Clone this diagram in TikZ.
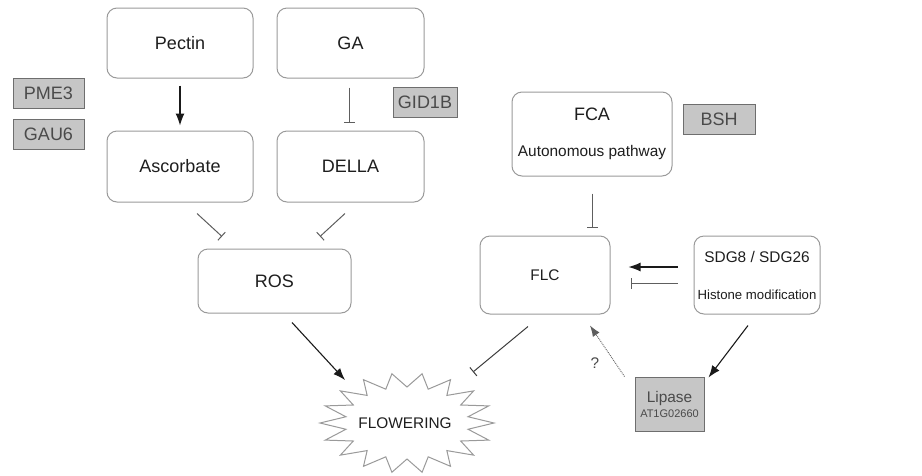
\documentclass[tikz,border=0pt]{standalone}
\usepackage{fontspec}
\setmainfont{Liberation Sans}
\usetikzlibrary{arrows.meta,calc}
\definecolor{txt}{HTML}{1E1E1E}
\definecolor{boxc}{HTML}{9A9A9A}
\definecolor{gfill}{HTML}{C6C6C6}
\definecolor{gdraw}{HTML}{6E6E6E}
\definecolor{gtxt}{HTML}{4A4A4A}
\definecolor{arrc}{HTML}{1A1A1A}
\definecolor{inhc}{HTML}{5E5E5E}
\definecolor{starc}{HTML}{9A9A9A}
\newcommand\fsBig{\fontsize{18}{21}\selectfont}
\newcommand\fsMid{\fontsize{15.4}{18}\selectfont}
\newcommand\fsSma{\fontsize{13.2}{15}\selectfont}
\newcommand\fsTin{\fontsize{11}{12}\selectfont}
\begin{document}
\begin{tikzpicture}[x=1pt,y=-1pt,
  box/.style={draw=boxc, line width=1pt, rounded corners=10pt, fill=white, text=txt, inner sep=0pt, align=center},
  gbox/.style={draw=gdraw, fill=gfill, line width=1pt, text=gtxt, inner sep=0pt, align=center},
  act/.style={-{Latex[length=12pt,width=9pt]}, line width=1.1pt, draw=arrc},
  inh/.style={-{Bar[width=11pt,line width=1pt]}, line width=1pt, draw=inhc},
  dotarr/.style={-{Latex[length=11pt,width=8pt]}, densely dotted, line width=0.9pt, draw=inhc}]
\useasboundingbox (0,0) rectangle (922,475);

% boxes
\node[box, minimum width=146, minimum height=70, font=\fsBig] (pectin) at (180,43) {Pectin};
\node[box, minimum width=147, minimum height=70, font=\fsBig] (ga) at (350.5,43) {GA};
\node[box, minimum width=146, minimum height=71, font=\fsBig] (asc) at (180,166.5) {Ascorbate};
\node[box, minimum width=147, minimum height=71, font=\fsBig] (della) at (350.5,166.5) {DELLA};
\node[box, minimum width=153, minimum height=64, font=\fsBig] (ros) at (274.5,281) {ROS};
\node[box, minimum width=160, minimum height=84] (fca) at (592,134) {{\fsBig FCA}\\[24pt]{\fsMid Autonomous pathway}};
\node[box, minimum width=130, minimum height=78, font=\fsMid] (flc) at (545,275) {FLC};
\node[box, minimum width=126, minimum height=78] (sdg) at (757,275) {{\fsMid SDG8 / SDG26}\\[25pt]{\fsSma Histone modification}};

% gray boxes
\node[gbox, minimum width=71, minimum height=30, font=\fsBig] (pme) at (48.5,93) {PME3};
\node[gbox, minimum width=71, minimum height=30, font=\fsBig] (gau) at (48.5,134) {GAU6};
\node[gbox, minimum width=64, minimum height=30, font=\fsBig] (gid) at (425,102) {GID1B};
\node[gbox, minimum width=72, minimum height=30, font=\fsBig] (bsh) at (719,119) {BSH};
\node[gbox, minimum width=69, minimum height=54] (lip) at (669.5,404) {{\fsMid Lipase}\\[3pt]{\fsTin AT1G02660}};

% flowering starburst
\draw[starc, line width=1pt, fill=white] plot[samples at={0,...,35}]
  ({407+(62+25*mod(\x+1,2))*cos(\x*10)}, {423+(36+14*mod(\x+1,2))*sin(\x*10)}) -- cycle;
\node[text=txt, font=\fsMid] (flw) at (405,423) {FLOWERING};

% connectors
\draw[act] ([shift={(0,7)}]pectin.south) -- ([shift={(0,-5)}]asc.north);
\draw[inh] ([shift={(-1.5,9)}]ga.south) -- ([shift={(-1.5,-8)}]della.north);
\draw[inh] ([shift={(17,11)}]asc.south) -- ([shift={(-52.5,-12)}]ros.north);
\draw[inh] ([shift={(-5.5,11)}]della.south) -- ([shift={(45.5,-12)}]ros.north);
\draw[act] ([shift={(17.5,9)}]ros.south) -- ([shift={(-60,-43)}]flw.center);
\draw[inh, draw=arrc!85] ([shift={(-17,12)}]flc.south) -- ([shift={(68,-51)}]flw.center);
\draw[inh] ([shift={(0,17)}]fca.south) -- ([shift={(47,-8)}]flc.north);
\draw[act] ([shift={(-16,-8)}]sdg.west) -- ([shift={(18,-8)}]flc.east);
\draw[inh] ([shift={(-16,8)}]sdg.west) -- ([shift={(20,8)}]flc.east);
\draw[act] ([shift={(-9,11)}]sdg.south) -- ([shift={(4,1)}]lip.north east);
\draw[dotarr] ([shift={(-10,0)}]lip.north west) -- ([shift={(45,11)}]flc.south);
\node[text=gtxt, font=\fsMid] (q) at (595,363) {?};
\end{tikzpicture}
\end{document}
